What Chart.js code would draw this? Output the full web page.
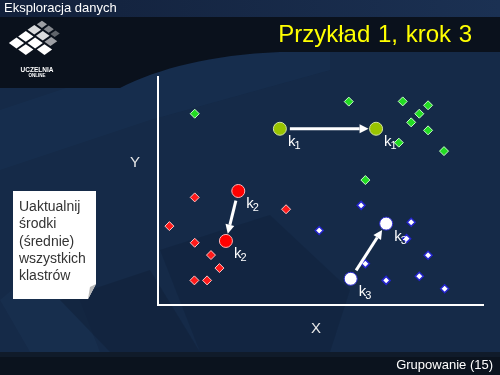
<!DOCTYPE html>
<html>
<head>
<meta charset="utf-8">
<script src="https://cdn.jsdelivr.net/npm/chart.js@4.4.0/dist/chart.umd.min.js"></script>
<style>
    html, body { margin: 0; padding: 0; }
    body {
        width: 500px; height: 375px; overflow: hidden; position: relative;
        background: #152a48; font-family: "Liberation Sans", Arial, sans-serif;
    }
    #bg { position: absolute; left: 0; top: 0; }
    #chartBox { position: absolute; left: 0; top: 0; width: 500px; height: 375px; }
    .txt { position: absolute; white-space: nowrap; }
    #topic { left: 4px; top: 0px; font-size: 13px; line-height: 15px; color: #ffffff; }
    #title { right: 28px; top: 22px; font-size: 24px; line-height: 24px; color: #ffff00; word-spacing: 1px; }
    #footer { right: 7px; top: 358px; font-size: 13px; line-height: 13px; color: #ffffff; }
    #yTitle { left: 130px; top: 154px; font-size: 15px; line-height: 15px; color: #e8e8e8; }
    #xTitle { left: 311px; top: 320px; font-size: 15px; line-height: 15px; color: #e8e8e8; }
    #note { left: 19px; top: 198px; font-size: 14px; line-height: 17.3px; color: #333333; }
    #logo1 { left: 16px; top: 66px; width: 42px; text-align: center; font-size: 6.5px; font-weight: bold; color: #ffffff; }
    #logo2 { left: 16px; top: 73px; width: 42px; text-align: center; font-size: 4.5px; font-weight: bold; color: #ffffff; }
</style>
</head>
<body>
<svg id="bg" width="500" height="375">
    <defs>
        <linearGradient id="topBar" x1="0" x2="1" y1="0" y2="0">
            <stop offset="0" stop-color="#12203a"/>
            <stop offset="1" stop-color="#1b3153"/>
        </linearGradient>
    </defs>
    <rect x="0" y="0" width="500" height="375" fill="#152a48"/>
    <!-- faint background tiles -->
    <polygon points="0,110 150,60 330,40 330,70 150,120 0,170" fill="#183052" opacity="0.6"/>
    <polygon points="160,250 270,215 350,290 330,352 200,352" fill="#11243e" opacity="0.7"/>
    <polygon points="0,300 30,352 100,352 60,250" fill="#1a3152" opacity="0.5"/>
    <polygon points="60,300 110,352 200,352 150,270" fill="#10223a" opacity="0.6"/>
    <rect x="0" y="0" width="500" height="17" fill="url(#topBar)"/>
    <path d="M0,17 H500 V52 H280 C210,55 160,68 120,88 H0 Z" fill="#0a111c"/>
    <rect x="0" y="352" width="500" height="5" fill="#101b2a"/>
    <rect x="0" y="357" width="500" height="18" fill="#0b131e"/>
    <!-- logo tiles -->
    <g transform="translate(36,43) scale(1.2,0.85) rotate(45)" fill="#ffffff">
        <rect x="-16" y="-4" width="9" height="9"/>
        <rect x="-5" y="-4" width="9" height="9"/>
        <rect x="6" y="-4" width="9" height="9"/>
        <rect x="-16" y="7" width="9" height="9"/>
        <rect x="-5" y="7" width="9" height="9"/>
        <rect x="-16" y="-14" width="8" height="8" opacity="0.85"/>
        <rect x="-6" y="-14" width="8" height="8" opacity="0.85"/>
        <rect x="4" y="-14" width="7" height="8" opacity="0.6"/>
        <rect x="-15" y="-22" width="6" height="6" opacity="0.6"/>
        <rect x="-7" y="-22" width="6" height="6" opacity="0.5"/>
        <rect x="1" y="-22" width="5" height="6" opacity="0.35"/>
    </g>
    <!-- note paper -->
    <path d="M13,191 H96 V284 L88,299 H13 Z" fill="#ffffff"/>
    <path d="M96,284 L88,299 L90,287 Z" fill="#b8b8b8"/>
</svg>

<div id="chartBox"><canvas id="chart" width="500" height="375"></canvas></div>

<div class="txt" id="topic">Eksploracja danych</div>
<div class="txt" id="title">Przykład 1, krok 3</div>
<div class="txt" id="footer">Grupowanie (15)</div>
<div class="txt" id="yTitle">Y</div>
<div class="txt" id="xTitle">X</div>
<div class="txt" id="note">Uaktualnij<br>środki<br>(średnie)<br>wszystkich<br>klastrów</div>
<div class="txt" id="logo1">UCZELNIA</div>
<div class="txt" id="logo2">ONLINE</div>

<script>
    // cluster points (axis units 0..100)
    const greenX = [11.3, 58.7, 75.3, 83.1, 80.4, 77.9, 83.1, 74.1, 88.0, 63.8];
    const greenY = [83.9, 89.2, 89.3, 87.6, 83.9, 80.1, 76.6, 71.2, 67.5, 54.8];

    const redX = [11.3, 39.4, 3.5, 11.3, 16.3, 18.9, 11.2, 15.1];
    const redY = [47.2, 42.0, 34.6, 27.3, 21.9, 16.2, 10.8, 10.8];

    const blueX = [62.5, 49.6, 77.9, 76.5, 83.1, 63.8, 70.2, 80.4, 88.2];
    const blueY = [43.7, 32.7, 36.3, 29.1, 21.8, 18.1, 10.8, 12.6, 7.1];

    // centroids: old position -> new position (k1, k2, k3)
    const centroidNames = ["1", "2", "3"];
    const oldCenterX = [37.5, 24.7, 59.3];
    const oldCenterY = [77.3, 50.0, 11.5];
    const newCenterX = [67.1, 20.9, 70.2];
    const newCenterY = [77.3, 28.1, 35.7];

    const centerFill = ["#99c400", "#ff0000", "#ffffff"];
    const centerBorder = ["#d4e6a0", "#ffb4b4", "#2c2cd0"];

    const toPoints = (xs, ys) => xs.map((v, i) => ({ x: v, y: ys[i] }));

    /*
     * Arrows from the old centroid to the new one, drawn just under the centroids */
    const movesPlugin = {
        id: "centroidMoves",
        beforeDatasetDraw(chart, args) {
            if (args.index !== 3) return;
            const { ctx, scales: { x, y } } = chart;
            ctx.save();
            ctx.strokeStyle = "#ffffff";
            ctx.fillStyle = "#ffffff";
            ctx.lineWidth = 3;
            for (let i = 0; i < oldCenterX.length; i++) {
                const x0 = x.getPixelForValue(oldCenterX[i]);
                const y0 = y.getPixelForValue(oldCenterY[i]);
                const x1 = x.getPixelForValue(newCenterX[i]);
                const y1 = y.getPixelForValue(newCenterY[i]);
                const a = Math.atan2(y1 - y0, x1 - x0);
                const c = Math.cos(a), s = Math.sin(a);
                const sx = x0 + c * 10, sy = y0 + s * 10;
                const tx = x1 - c * 7.5, ty = y1 - s * 7.5;
                const bx = tx - c * 9, by = ty - s * 9;
                ctx.beginPath();
                ctx.moveTo(sx, sy);
                ctx.lineTo(bx, by);
                ctx.stroke();
                ctx.beginPath();
                ctx.moveTo(tx, ty);
                ctx.lineTo(bx + s * 4.5, by - c * 4.5);
                ctx.lineTo(bx - s * 4.5, by + c * 4.5);
                ctx.closePath();
                ctx.fill();
            }
            ctx.restore();
        },
        afterDatasetsDraw(chart) {
            const { ctx, scales: { x, y } } = chart;
            ctx.save();
            ctx.fillStyle = "#ffffff";
            ctx.textBaseline = "alphabetic";
            const label = (px, py, n) => {
                ctx.font = "15px 'Liberation Sans', Arial, sans-serif";
                ctx.fillText("k", px + 8, py + 17);
                const w = ctx.measureText("k").width;
                ctx.font = "11px 'Liberation Sans', Arial, sans-serif";
                ctx.fillText(n, px + 8 + w - 1, py + 20);
            };
            for (let i = 0; i < centroidNames.length; i++) {
                label(x.getPixelForValue(oldCenterX[i]), y.getPixelForValue(oldCenterY[i]), centroidNames[i]);
                label(x.getPixelForValue(newCenterX[i]), y.getPixelForValue(newCenterY[i]), centroidNames[i]);
            }
            ctx.restore();
        },
    };

    const ctx = document.getElementById("chart");

    new Chart(ctx, {
        type: "scatter",
        data: {
            datasets: [
                {
                    label: "Klaster 1",
                    data: toPoints(greenX, greenY),
                    pointStyle: "rectRot",
                    pointRadius: 4.5,
                    backgroundColor: "#22dd22",
                    borderColor: "#c8ffc8",
                    borderWidth: 1,
                    order: 1,
                },
                {
                    label: "Klaster 2",
                    data: toPoints(redX, redY),
                    pointStyle: "rectRot",
                    pointRadius: 4.5,
                    backgroundColor: "#ff1a1a",
                    borderColor: "#ffc4c4",
                    borderWidth: 1,
                    order: 1,
                },
                {
                    label: "Klaster 3",
                    data: toPoints(blueX, blueY),
                    pointStyle: "rectRot",
                    pointRadius: 4,
                    backgroundColor: "#ffffff",
                    borderColor: "#2424d0",
                    borderWidth: 1.5,
                    order: 1,
                },
                {
                    label: "Środki",
                    data: toPoints(oldCenterX.concat(newCenterX), oldCenterY.concat(newCenterY)),
                    pointStyle: "circle",
                    pointRadius: 6.5,
                    backgroundColor: centerFill.concat(centerFill),
                    borderColor: centerBorder.concat(centerBorder),
                    borderWidth: 1,
                    order: 0,
                },
            ],
        },
        options: {
            responsive: false,
            animation: false,
            events: [],
            layout: { padding: { left: 150, top: 77, right: 17, bottom: 62 } },
            plugins: {
                legend: { display: false },
                tooltip: { enabled: false },
            },
            scales: {
                x: {
                    min: 0,
                    max: 100,
                    grid: { display: false },
                    ticks: { display: false },
                    border: { color: "#ffffff", width: 2 },
                },
                y: {
                    min: 0,
                    max: 100,
                    grid: { display: false },
                    ticks: { display: false },
                    border: { color: "#ffffff", width: 2 },
                },
            },
        },
        plugins: [movesPlugin],
    });
</script>
</body>
</html>
